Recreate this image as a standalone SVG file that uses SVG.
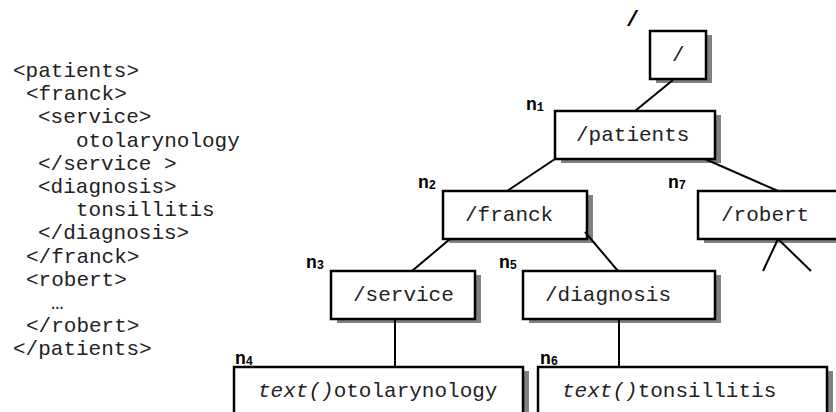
<svg xmlns="http://www.w3.org/2000/svg" width="836" height="412" viewBox="0 0 836 412">
<style>
.code{font-family:"Liberation Mono","Courier New",monospace;font-size:21px;fill:#222}
.lbl{font-family:"Liberation Mono","Courier New",monospace;font-size:21px;fill:#222}
.it{font-style:italic}
.box{fill:#fff;stroke:#000;stroke-width:2.5}
.sh{fill:#808080}
.n{font-family:"Liberation Mono","Courier New",monospace;font-size:18px;font-weight:bold;fill:#000}
.sub{font-size:12px}
.con line{stroke:#000;stroke-width:2}
</style>
<rect width="836" height="412" fill="#fff"/>
<g id="xml-source">
<text class="code" x="13" y="77">&lt;patients&gt;</text>
<text class="code" x="26" y="100">&lt;franck&gt;</text>
<text class="code" x="38" y="123">&lt;service&gt;</text>
<text class="code" x="76" y="147">otolarynology</text>
<text class="code" x="38" y="170">&lt;/service &gt;</text>
<text class="code" x="38" y="193">&lt;diagnosis&gt;</text>
<text class="code" x="76" y="216">tonsillitis</text>
<text class="code" x="38" y="239">&lt;/diagnosis&gt;</text>
<text class="code" x="26" y="263">&lt;/franck&gt;</text>
<text class="code" x="26" y="286">&lt;robert&gt;</text>
<text class="code" x="51" y="309">…</text>
<text class="code" x="26" y="332">&lt;/robert&gt;</text>
<text class="code" x="13" y="355">&lt;/patients&gt;</text>
</g>
<text class="n" x="626" y="26" style="font-size:22px">/</text>
<g id="root">
<rect class="sh" x="656" y="35" width="56" height="48"/>
<rect class="box" x="650" y="31" width="56" height="48"/>
<text class="lbl" x="672" y="61">/</text>
</g>
<g id="n1">
<rect class="sh" x="561" y="115" width="160" height="48"/>
<rect class="box" x="555" y="111" width="160" height="48"/>
<text class="lbl" x="576" y="141">/patients</text>
<text class="n" x="526" y="110">n<tspan class="sub" dy="1">1</tspan></text>
</g>
<g id="n2">
<rect class="sh" x="449" y="195" width="144" height="48"/>
<rect class="box" x="443" y="191" width="144" height="48"/>
<text class="lbl" x="465" y="221">/franck</text>
<text class="n" x="418" y="188">n<tspan class="sub" dy="1">2</tspan></text>
</g>
<g id="n7">
<rect class="sh" x="704" y="195" width="144" height="48"/>
<rect class="box" x="698" y="191" width="144" height="48"/>
<text class="lbl" x="721" y="221">/robert</text>
<text class="n" x="668" y="188">n<tspan class="sub" dy="1">7</tspan></text>
</g>
<g id="n3">
<rect class="sh" x="337" y="275" width="144" height="48"/>
<rect class="box" x="331" y="271" width="144" height="48"/>
<text class="lbl" x="353" y="301">/service</text>
<text class="n" x="306" y="268">n<tspan class="sub" dy="1">3</tspan></text>
</g>
<g id="n5">
<rect class="sh" x="529" y="275" width="192" height="48"/>
<rect class="box" x="523" y="271" width="192" height="48"/>
<text class="lbl" x="545" y="301">/diagnosis</text>
<text class="n" x="499" y="268">n<tspan class="sub" dy="1">5</tspan></text>
</g>
<g id="n4">
<rect class="sh" x="240" y="371" width="289" height="48"/>
<rect class="box" x="234" y="367" width="289" height="48"/>
<text class="lbl" x="258" y="397"><tspan class="it">text()</tspan>otolarynology</text>
<text class="n" x="235" y="364">n<tspan class="sub" dy="1">4</tspan></text>
</g>
<g id="n6">
<rect class="sh" x="544" y="371" width="289" height="48"/>
<rect class="box" x="538" y="367" width="289" height="48"/>
<text class="lbl" x="562" y="397"><tspan class="it">text()</tspan>tonsillitis</text>
<text class="n" x="540" y="364">n<tspan class="sub" dy="1">6</tspan></text>
</g>
<g id="connectors" class="con">
<line x1="673" y1="80" x2="635" y2="111"/>
<line x1="555" y1="159" x2="507" y2="191"/>
<line x1="705" y1="159" x2="778" y2="191"/>
<line x1="450" y1="239" x2="412" y2="271"/>
<line x1="585" y1="232" x2="618" y2="271"/>
<line x1="395" y1="319" x2="395" y2="367"/>
<line x1="619" y1="319" x2="619" y2="367"/>
<line x1="778" y1="239" x2="763" y2="271"/>
<line x1="778" y1="239" x2="811" y2="271"/>
</g>
</svg>
